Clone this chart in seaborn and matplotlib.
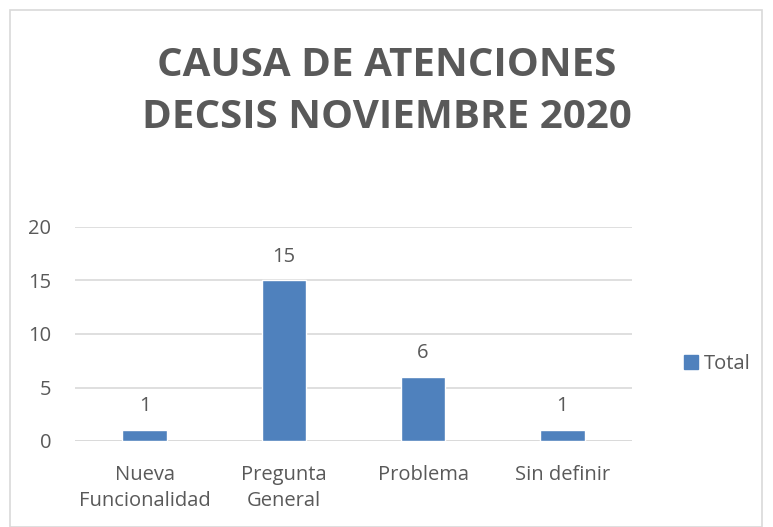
import pandas as pd
import matplotlib.pyplot as plt
import seaborn as sns
from matplotlib.patches import Rectangle, Patch

categorias = ["Nueva\nFuncionalidad", "Pregunta\nGeneral", "Problema", "Sin definir"]
totales = [1, 15, 6, 1]
ticks_y = [0, 5, 10, 15, 20]

df = pd.DataFrame({"causa": categorias, "total": totales})

sns.set_theme(style="white")
plt.rcParams["font.family"] = ["Open Sans", "DejaVu Sans"]
gris = "#595959"
azul = "#4F81BD"
fs = 14.5

fig = plt.figure(figsize=(7.73, 5.27), dpi=100)
ax = fig.add_axes([75 / 773, 1 - 441 / 527, 557 / 773, 214 / 527])

sns.barplot(data=df, x="causa", y="total", color=azul, width=0.32, saturation=1, ax=ax)

ax.set_ylim(0, 20)
ax.set_yticks(ticks_y)
ax.set_xlim(-0.5, 3.5)
ax.yaxis.grid(True, color="#D9D9D9", linewidth=1.2)
ax.set_axisbelow(True)
for s in ax.spines.values():
    s.set_visible(False)
ax.axhline(0, color="#D9D9D9", linewidth=1.2, zorder=0)
ax.tick_params(axis="both", colors=gris, labelsize=fs, length=0)
ax.tick_params(axis="y", pad=17)
ax.tick_params(axis="x", pad=17)
for lbl in ax.get_xticklabels():
    lbl.set_linespacing(1.45)
ax.set_xlabel("")
ax.set_ylabel("")

for i, v in enumerate(totales):
    ax.text(i, v + 1.3, str(v), ha="center", va="bottom", fontsize=fs, color=gris)

fig.text(0.5, 1 - 65 / 527, "CAUSA DE ATENCIONES", ha="center", va="center",
         fontsize=29, fontweight="bold", color=gris)
fig.text(0.5, 1 - 118 / 527, "DECSIS NOVIEMBRE 2020", ha="center", va="center",
         fontsize=29, fontweight="bold", color=gris)

ax.legend(handles=[Patch(color=azul, label="Total")], loc="center left",
          bbox_to_anchor=(1.06, 0.36), frameon=False, fontsize=fs,
          handlelength=0.7, handleheight=0.7, handletextpad=0.3, labelcolor=gris)

fig.patches.append(Rectangle((10 / 773, 0), 752 / 773, 1 - 10 / 527, transform=fig.transFigure,
                             fill=False, edgecolor="#D9D9D9", linewidth=1.2))

fig.savefig("out.png", dpi=100)
